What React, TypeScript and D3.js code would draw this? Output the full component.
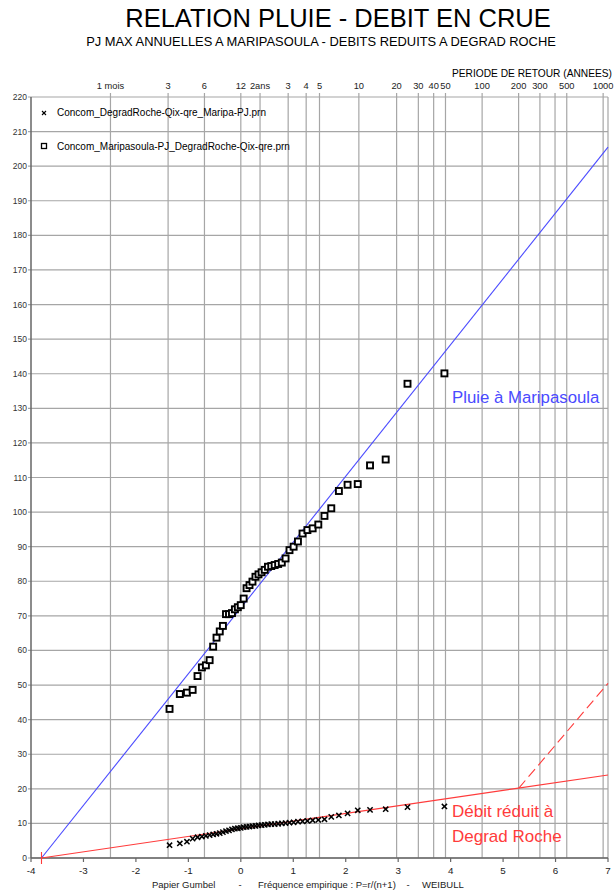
import React from "react";
import * as d3 from "d3";

// ---- Data ----
// Sorted annual maxima, ranked r = 1..n, plotted at Weibull frequency P = r/(n+1)
const rainValues = [
  43.1, 47.4, 47.8, 48.6, 52.6, 55.1, 55.7, 57.2, 61.1, 63.7, 65.5, 67.1,
  70.5, 70.5, 70.8, 71.9, 72.5, 73.1, 75.0, 78.0, 78.9, 79.9, 81.3, 82.0,
  82.6, 83.3, 84.2, 84.4, 84.7, 85.0, 85.4, 86.6, 89.0, 90.0, 91.5, 93.8,
  94.8, 95.3, 96.4, 98.9, 101.1, 106.1, 107.9, 108.1, 113.5, 115.2, 137.1, 140.1,
];
const flowValues = [
  3.7, 4.2, 4.7, 5.6, 6.0, 6.2, 6.4, 6.6, 6.8, 7.0, 7.2, 7.5,
  7.8, 8.0, 8.3, 8.5, 8.6, 8.7, 8.9, 9.0, 9.1, 9.2, 9.3, 9.4,
  9.5, 9.6, 9.7, 9.8, 9.8, 9.9, 10.0, 10.1, 10.2, 10.3, 10.5, 10.6,
  10.7, 10.9, 11.0, 11.2, 11.9, 12.3, 12.9, 13.8, 13.9, 14.1, 14.7, 14.9,
];
// Fitted lines (Gumbel variable u, value)
const rainFit: [number, number][] = [[-3.8, 0], [7, 205.5]];
const flowFit: [number, number][] = [[-3.8, 0], [7, 24]];
const flowExtrapolation: [number, number][] = [[5.3, 20.2], [7, 50.5]];

// Axis ticks
const xTicks = [-4, -3, -2, -1, 0, 1, 2, 3, 4, 5, 6, 7];
const yTicks = d3.range(0, 221, 10);
const monthTicks = [1, 3, 6, 12];
const monthLabels = ["1 mois", "3", "6", "12"];
const yearTicks = [2, 3, 4, 5, 10, 20, 30, 40, 50, 100, 200, 300, 400, 500, 1000];
const yearLabels = ["2ans", "3", "4", "5", "10", "20", "30", "40", "50", "100", "200", "300", "", "500", "1000"];

const legendLabels = [
  "Concom_DegradRoche-Qix-qre_Maripa-PJ.prn",
  "Concom_Maripasoula-PJ_DegradRoche-Qix-qre.prn",
];

const W = 614;
const H = 892;
const FONT = "'Liberation Sans', Arial, sans-serif";

export default function App() {
  const x = d3.scaleLinear().domain([-4, 7]).range([31, 608]);
  const y = d3.scaleLinear().domain([0, 220]).range([858, 97]);
  const line = d3
    .line<[number, number]>()
    .x((d) => x(d[0]))
    .y((d) => y(d[1]));

  const weibull = (r: number, n: number) => -Math.log(-Math.log(r / (n + 1)));
  const rainPts = rainValues.map((v, i) => [weibull(i + 1, rainValues.length), v]);
  const flowPts = flowValues.map((v, i) => [weibull(i + 1, flowValues.length), v]);

  const periodTicks = [
    ...monthTicks.map((m, i) => ({ u: Math.log(m / 12), label: monthLabels[i] })),
    ...yearTicks.map((t, i) => ({ u: -Math.log(-Math.log(1 - 1 / t)), label: yearLabels[i] })),
  ];

  const gridColor = "#a6a6a6";
  const blue = "#4a4aff";
  const red = "#ff3b3b";
  const top = y(220);
  const bottom = y(0);

  return (
    <svg
      width={W}
      height={H}
      style={{ position: "absolute", left: 0, top: 0, background: "#fff" }}
      fontFamily={FONT}
    >
      <rect x={0} y={0} width={W} height={H} fill="#fff" />
      {/* Titles */}
      <text x={338} y={27} textAnchor="middle" fontSize={25.5} fill="#000">
        RELATION PLUIE - DEBIT EN CRUE
      </text>
      <text x={321} y={46} textAnchor="middle" fontSize={12.9} fill="#000">
        PJ MAX ANNUELLES A MARIPASOULA - DEBITS REDUITS A DEGRAD ROCHE
      </text>
      <text x={612} y={77} textAnchor="end" fontSize={10.2} fill="#000">
        PERIODE DE RETOUR (ANNEES)
      </text>

      {/* horizontal grid */}
      {yTicks.map((t) => (
        <g key={"y" + t}>
          <line x1={x(-4) - 3} x2={x(7)} y1={y(t)} y2={y(t)} stroke={gridColor} strokeWidth={1.2} />
          <text x={27} y={y(t) + 3} textAnchor="end" fontSize={8.5} fill="#333">
            {t}
          </text>
        </g>
      ))}

      {/* vertical grid at return periods */}
      {periodTicks.map((p, i) => (
        <g key={"p" + i}>
          <line x1={x(p.u)} x2={x(p.u)} y1={top - 4} y2={bottom} stroke={gridColor} strokeWidth={1.2} />
          {p.label && (
            <text x={x(p.u)} y={89} textAnchor="middle" fontSize={9.3} fill="#222">
              {p.label}
            </text>
          )}
        </g>
      ))}
      <line x1={x(7)} x2={x(7)} y1={top} y2={bottom} stroke={gridColor} strokeWidth={1.2} />

      {/* axes */}
      <line x1={x(-4)} x2={x(-4)} y1={top} y2={bottom} stroke="#666" strokeWidth={1.5} />
      <line x1={x(-4)} x2={x(7)} y1={bottom} y2={bottom} stroke="#666" strokeWidth={1.5} />
      {xTicks.map((t) => (
        <g key={"x" + t}>
          <line x1={x(t)} x2={x(t)} y1={bottom} y2={bottom + 4} stroke="#666" strokeWidth={1.2} />
          <text x={x(t)} y={874} textAnchor="middle" fontSize={9.8} fill="#222">
            {t}
          </text>
        </g>
      ))}
      <text x={152} y={888} fontSize={9.5} fill="#222">Papier Gumbel</text>
      <text x={240} y={888} fontSize={9.5} fill="#222" textAnchor="middle">-</text>
      <text x={258} y={888} fontSize={9.5} fill="#222">Fréquence empirique : P=r/(n+1)</text>
      <text x={408} y={888} fontSize={9.5} fill="#222" textAnchor="middle">-</text>
      <text x={422} y={888} fontSize={9.5} fill="#222">WEIBULL</text>

      {/* legend */}
      <g stroke="#000" strokeWidth={1.1}>
        <line x1={42} x2={46} y1={111} y2={115} />
        <line x1={42} x2={46} y1={115} y2={111} />
      </g>
      <text x={57} y={116} fontSize={10} fill="#000">{legendLabels[0]}</text>
      <rect x={41.5} y={143.5} width={5} height={5} fill="#fff" stroke="#000" strokeWidth={1.3} />
      <text x={57} y={150} fontSize={10} fill="#000">{legendLabels[1]}</text>

      {/* fitted lines */}
      <path d={line(rainFit) || ""} fill="none" stroke={blue} strokeWidth={1.1} />
      <path d={line(flowFit) || ""} fill="none" stroke={red} strokeWidth={1.1} />
      <path d={line(flowExtrapolation) || ""} fill="none" stroke={red} strokeWidth={1.1} strokeDasharray="10,5" />
      <line x1={x(-3.8)} x2={x(-3.8)} y1={bottom - 6} y2={bottom + 6} stroke={red} strokeWidth={1.1} />

      {/* rain points (squares) */}
      {rainPts.map((p, i) => (
        <rect
          key={"r" + i}
          x={x(p[0]) - 3}
          y={y(p[1]) - 3}
          width={6}
          height={6}
          fill="#fff"
          stroke="#000"
          strokeWidth={1.9}
        />
      ))}
      {/* flow points (crosses) */}
      {flowPts.map((p, i) => {
        const cx = x(p[0]);
        const cy = y(p[1]);
        return (
          <g key={"f" + i} stroke="#000" strokeWidth={1.5}>
            <line x1={cx - 2.6} x2={cx + 2.6} y1={cy - 2.6} y2={cy + 2.6} />
            <line x1={cx - 2.6} x2={cx + 2.6} y1={cy + 2.6} y2={cy - 2.6} />
          </g>
        );
      })}

      {/* annotations */}
      <text x={452} y={403} fontSize={16.8} fill={blue}>Pluie à Maripasoula</text>
      <text x={452} y={817} fontSize={17} fill={red}>Débit réduit à</text>
      <text x={452} y={842} fontSize={17} fill={red}>Degrad Roche</text>
    </svg>
  );
}
